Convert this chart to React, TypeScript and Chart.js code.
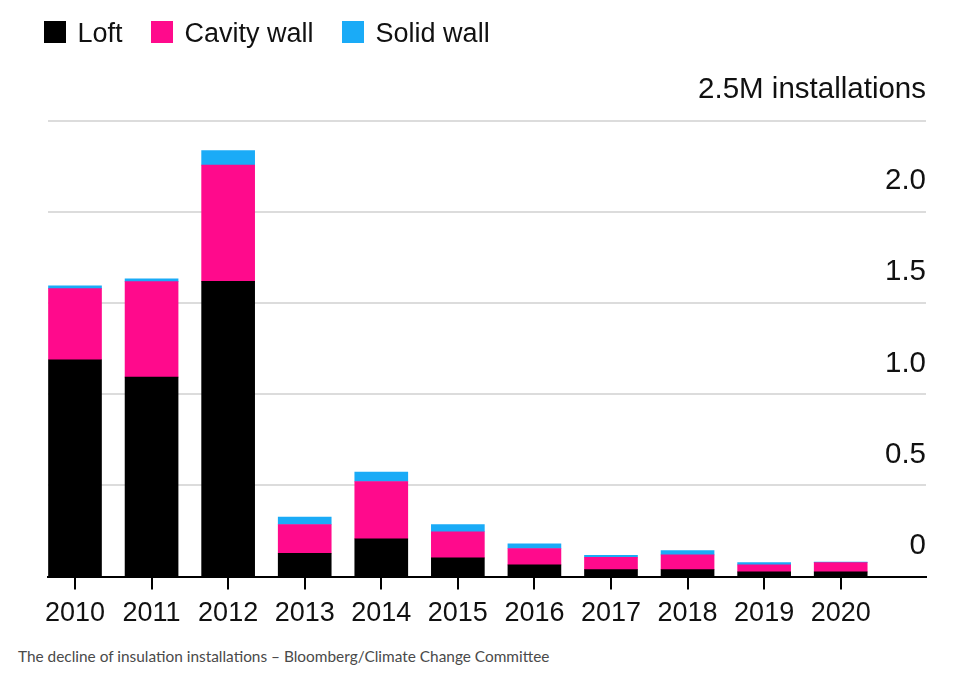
import React, { useEffect, useRef } from 'react';
import Chart from 'chart.js/auto';

const years = ['2010', '2011', '2012', '2013', '2014', '2015', '2016', '2017', '2018', '2019', '2020'];
// millions of installations
const loft = [1.19, 1.095, 1.62, 0.128, 0.207, 0.103, 0.064, 0.038, 0.038, 0.026, 0.026];
const cavityWall = [0.39, 0.524, 0.638, 0.158, 0.315, 0.143, 0.09, 0.068, 0.081, 0.038, 0.051];
const solidWall = [0.015, 0.015, 0.08, 0.04, 0.051, 0.04, 0.026, 0.011, 0.024, 0.013, 0.003];
const yTicks = [0, 0.5, 1, 1.5, 2, 2.5];

const seriesNames = ['Loft', 'Cavity wall', 'Solid wall'];
const seriesColors = ['#000000', '#ff0a8c', '#1aabf7'];

const FONT = '"Liberation Sans", Arial, Helvetica, sans-serif';

const App: React.FC = () => {
  const canvasRef = useRef<HTMLCanvasElement>(null);
  const chartRef = useRef<Chart | null>(null);

  useEffect(() => {
    document.body.style.margin = '0';
    if (!canvasRef.current) return;

    const series = [loft, cavityWall, solidWall];

    chartRef.current = new Chart(canvasRef.current, {
      type: 'bar',
      data: {
        datasets: series.map((values, s) => ({
          label: seriesNames[s],
          data: values.map((v, i) => ({ x: i, y: v })),
          backgroundColor: seriesColors[s],
          borderWidth: 0,
          barThickness: 53,
        })),
      },
      options: {
        responsive: false,
        animation: false,
        layout: { padding: { left: 48, right: 33, top: 121, bottom: 2 } },
        plugins: {
          legend: { display: false },
          tooltip: { enabled: false },
        },
        scales: {
          x: {
            type: 'linear',
            stacked: true,
            offset: false,
            min: -0.3526,
            max: 11.114,
            afterBuildTicks: (scale: any) => {
              scale.ticks = years.map((_, i) => ({ value: i }));
            },
            grid: {
              offset: false,
              drawOnChartArea: false,
              drawTicks: true,
              tickLength: 13,
              color: '#000',
              lineWidth: 2,
            },
            border: { display: true, color: '#000', width: 2 },
            ticks: {
              autoSkip: false,
              maxRotation: 0,
              padding: 8,
              color: '#111',
              font: { family: FONT, size: 27 },
              callback: (v: any) => years[Math.round(Number(v))] ?? '',
            },
          },
          y: {
            type: 'linear',
            position: 'right',
            stacked: true,
            min: 0,
            max: 2.5,
            afterBuildTicks: (scale: any) => {
              scale.ticks = yTicks.map((v) => ({ value: v }));
            },
            grid: {
              drawTicks: false,
              lineWidth: 2,
              color: (ctx: any) => (ctx.tick && ctx.tick.value === 0 ? 'rgba(0,0,0,0)' : '#dcdcdc'),
            },
            border: { display: false },
            ticks: {
              mirror: true,
              padding: 0,
              labelOffset: -31,
              color: '#111',
              font: { family: FONT, size: 29.5 },
              callback: (v: any) => {
                const n = Number(v);
                if (n === 2.5) return '2.5M installations';
                if (n === 0) return '0';
                return n.toFixed(1);
              },
            },
          },
        },
      },
    });

    return () => {
      if (chartRef.current) {
        chartRef.current.destroy();
        chartRef.current = null;
      }
    };
  }, []);

  return (
    <div style={{ position: 'relative', width: 959, height: 678, background: '#fff', overflow: 'hidden' }}>
      <canvas ref={canvasRef} width={959} height={640} style={{ position: 'absolute', left: 0, top: 0 }} />
      <div
        style={{
          position: 'absolute',
          left: 44,
          top: 20,
          display: 'flex',
          alignItems: 'flex-start',
          fontFamily: FONT,
          fontSize: 27,
          lineHeight: '27px',
          color: '#111',
        }}
      >
        {seriesNames.map((name, i) => (
          <div key={name} style={{ display: 'flex', alignItems: 'flex-start', marginRight: 28.5 }}>
            <span
              style={{
                display: 'inline-block',
                width: 22,
                height: 22,
                marginTop: 1,
                marginRight: 11.5,
                background: seriesColors[i],
              }}
            />
            <span>{name}</span>
          </div>
        ))}
      </div>
      <div
        style={{
          position: 'absolute',
          left: 18,
          top: 647,
          fontFamily: 'Lato, "Noto Sans", sans-serif',
          fontSize: 15.4,
          color: '#4a4a4a',
          whiteSpace: 'nowrap',
        }}
      >
        The decline of insulation installations – Bloomberg/Climate Change Committee
      </div>
    </div>
  );
};

export default App;
